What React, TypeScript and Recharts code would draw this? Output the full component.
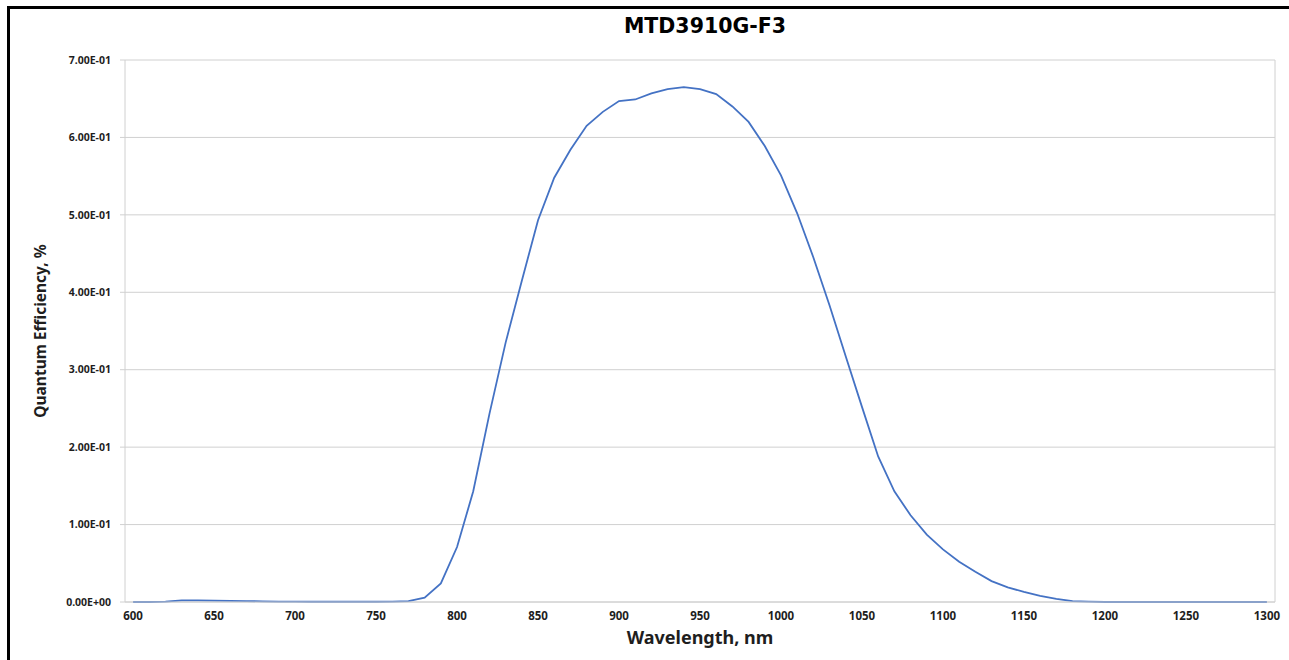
import { LineChart, Line, XAxis, YAxis, CartesianGrid } from 'recharts'

const wavelengths = [
  600, 610, 620, 630, 640, 650, 660, 670, 680, 690,
  700, 710, 720, 730, 740, 750, 760, 770, 780, 790,
  800, 810, 820, 830, 840, 850, 860, 870, 880, 890,
  900, 910, 920, 930, 940, 950, 960, 970, 980, 990,
  1000, 1010, 1020, 1030, 1040, 1050, 1060, 1070, 1080, 1090,
  1100, 1110, 1120, 1130, 1140, 1150, 1160, 1170, 1180, 1190,
  1200, 1210, 1220, 1230, 1240, 1250, 1260, 1270, 1280, 1290, 1300,
]

const quantumEfficiency = [
  0, 0, 0.0005, 0.002, 0.002, 0.0018, 0.0015, 0.0012, 0.0008, 0.0005,
  0.0004, 0.0003, 0.0003, 0.0003, 0.0003, 0.0003, 0.0004, 0.001, 0.0055, 0.024,
  0.071, 0.143, 0.243, 0.335, 0.415, 0.493, 0.548, 0.584, 0.615, 0.633,
  0.647, 0.649, 0.657, 0.6625, 0.665, 0.6625, 0.656, 0.64, 0.62, 0.589,
  0.551, 0.502, 0.445, 0.383, 0.317, 0.252, 0.188, 0.143, 0.112, 0.087,
  0.068, 0.052, 0.039, 0.027, 0.019, 0.013, 0.008, 0.004, 0.001, 0.0005,
  0, 0, 0, 0, 0, 0, 0, 0, 0, 0, 0,
]

// labelled ticks sit on the points, grid lines sit half a step before them (Excel category axis)
const xLabelTicks = [600, 650, 700, 750, 800, 850, 900, 950, 1000, 1050, 1100, 1150, 1200, 1250, 1300]
const xGridTicks = [595, 645, 695, 745, 795, 845, 895, 945, 995, 1045, 1095, 1145, 1195, 1245, 1295]
const yTicks = [0, 0.1, 0.2, 0.3, 0.4, 0.5, 0.6, 0.7]

const data = wavelengths.map((nm, i) => ({ nm, qe: quantumEfficiency[i] }))

const sci = (v: number) => {
  const [m, e] = v.toExponential(2).split('e')
  const n = parseInt(e, 10)
  return `${m}E${n < 0 ? '-' : '+'}${String(Math.abs(n)).padStart(2, '0')}`
}

const GRID = '#d0d0d0'
const TEXT = '#1e1e1e'
const FONT = '"Noto Sans", sans-serif'

export default function App() {
  return (
    <div style={{ position: 'absolute', left: 0, top: 0, width: 1289, height: 660, overflow: 'hidden', background: '#fff' }}>
      <div
        style={{
          position: 'absolute',
          left: 7,
          top: 6,
          width: 1400,
          height: 800,
          borderLeft: '3px solid #000',
          borderTop: '3px solid #000',
        }}
      />
      <div
        style={{
          position: 'absolute',
          left: 555,
          top: 14,
          width: 300,
          textAlign: 'center',
          fontFamily: '"DejaVu Sans", sans-serif',
          fontWeight: 'bold',
          fontSize: 20.5,
          color: '#000',
        }}
      >
        MTD3910G-F3
      </div>
      <div style={{ position: 'absolute', left: 0, top: 0 }}>
        <LineChart width={1289} height={660} data={data} margin={{ top: 60, right: 14, left: 0, bottom: 0 }}>
          <CartesianGrid stroke={GRID} strokeWidth={1} />
          {/* default axis: carries the grid boundaries and the little tick marks below the axis */}
          <XAxis
            dataKey="nm"
            type="number"
            domain={[595, 1305]}
            ticks={xGridTicks}
            interval={0}
            height={0}
            axisLine={false}
            tick={false}
            tickLine={{ stroke: GRID }}
            tickSize={5}
          />
          <XAxis
            xAxisId="labels"
            dataKey="nm"
            type="number"
            domain={[595, 1305]}
            ticks={xLabelTicks}
            interval={0}
            height={58}
            axisLine={{ stroke: GRID }}
            tickLine={false}
            tickSize={5}
            tickMargin={5}
            tick={{ fontSize: 11.5, fontWeight: 'bold', fill: TEXT, fontFamily: FONT }}
            label={{
              value: 'Wavelength, nm',
              position: 'insideBottom',
              offset: 16,
              style: { fontSize: 18, fontWeight: 'bold', fill: TEXT, fontFamily: FONT },
            }}
          />
          <YAxis
            type="number"
            domain={[0, 0.7]}
            ticks={yTicks}
            interval={0}
            width={125}
            axisLine={false}
            tickLine={{ stroke: GRID }}
            tickSize={5}
            tickMargin={9}
            tickFormatter={sci}
            tick={{ fontSize: 10.5, fontWeight: 'bold', fill: TEXT, fontFamily: FONT }}
            label={{
              value: 'Quantum Efficiency, %',
              angle: -90,
              position: 'insideLeft',
              offset: 40,
              style: { textAnchor: 'middle', fontSize: 15.5, fontWeight: 'bold', fill: TEXT, fontFamily: FONT },
            }}
          />
          <Line
            type="linear"
            dataKey="qe"
            stroke="#4472C4"
            strokeWidth={1.8}
            dot={false}
            activeDot={false}
            isAnimationActive={false}
          />
        </LineChart>
      </div>
    </div>
  )
}
